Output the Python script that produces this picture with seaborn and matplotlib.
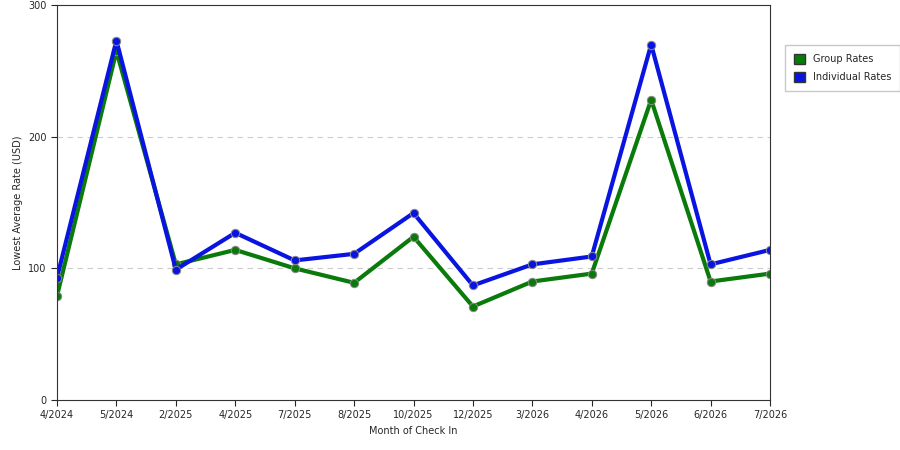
import matplotlib
matplotlib.use("Agg")
import matplotlib.pyplot as plt
import seaborn as sns
import pandas as pd

months = ["4/2024","5/2024","2/2025","4/2025","7/2025","8/2025","10/2025","12/2025","3/2026","4/2026","5/2026","6/2026","7/2026"]
group = [79,265,103,114,100,89,124,71,90,96,228,90,96]
individual = [93,273,99,127,106,111,142,87,103,109,270,103,114]

df = pd.DataFrame({"x": list(range(len(months)))*2,
                   "rate": group+individual,
                   "series": ["Group Rates"]*len(months)+["Individual Rates"]*len(months)})

sns.set_style("white")
plt.rcParams['font.family'] = ['DejaVu Sans']
fig = plt.figure(figsize=(9,4.5), dpi=100)
ax = fig.add_axes([57/900, 50/450, 713/900, 395/450])
pal = {"Group Rates": "#0a7a0a", "Individual Rates": "#0a14e0"}
sns.lineplot(data=df, x="x", y="rate", hue="series", palette=pal, linewidth=3,
             marker="o", markersize=6, markeredgecolor="#888888", ax=ax, legend=False)
ax.set_xlim(0, len(months)-1)
ax.set_ylim(0, 300)
ax.set_xticks(range(len(months)))
ax.set_xticklabels(months, fontsize=7)
ax.set_yticks([0,100,200,300])
ax.tick_params(axis='y', labelsize=7, length=4, left=True)
ax.tick_params(axis='x', length=4, bottom=True)
for y in [100,200]:
    ax.axhline(y, color="#cccccc", linestyle=(0,(5,4)), linewidth=0.8, zorder=0)
ax.set_xlabel("Month of Check In", fontsize=7)
ax.set_ylabel("Lowest Average Rate (USD)", fontsize=7)
for s in ax.spines.values():
    s.set_color("#333333"); s.set_linewidth(0.8)
from matplotlib.patches import Patch
handles = [Patch(facecolor=pal[k], edgecolor="#333333", label=k) for k in pal]
fig.legend(handles=handles, loc="upper left", bbox_to_anchor=(780/900, 1-40/450),
           fontsize=7, frameon=True, edgecolor="#bbbbbb", fancybox=False,
           handlelength=1.2, handleheight=1.2, borderpad=0.9, labelspacing=0.8)
fig.savefig("out.png", dpi=100)
